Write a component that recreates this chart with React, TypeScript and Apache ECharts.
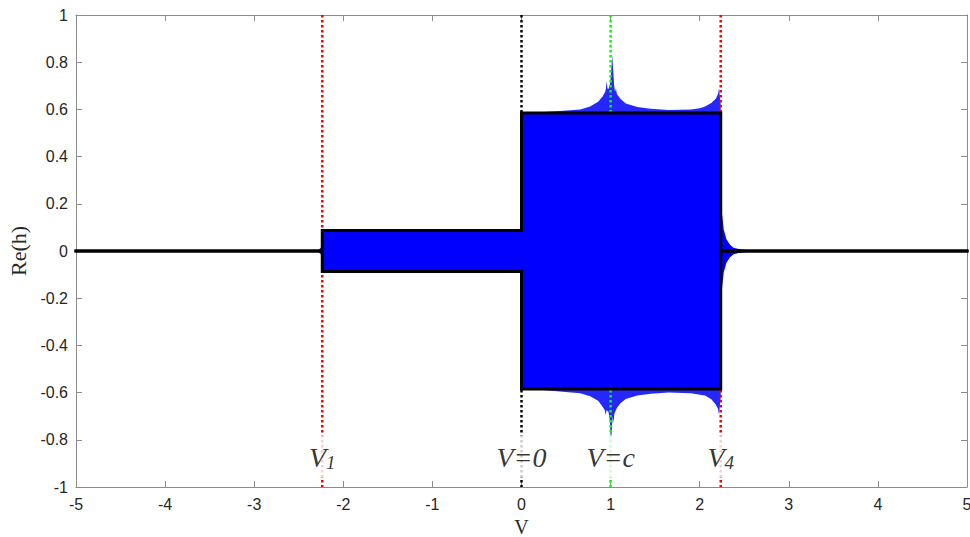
import React, { useEffect, useRef } from 'react';
import * as echarts from 'echarts';

// Characteristic speeds marked on the V axis
const V1 = -2.236;
const V0 = 0;
const VC = 1;
const V4 = 2.236;

// Outer envelope of Re(h) (black outline)
const envelopeUpper: [number, number][] = [
  [-5, 0], [-2.236, 0], [-2.236, 0.087], [0, 0.087], [0, 0.585], [2.236, 0.585], [2.236, 0], [5, 0],
];
const envelopeLower: [number, number][] = [
  [-5, 0], [-2.236, 0], [-2.236, -0.087], [0, -0.087], [0, -0.585], [2.236, -0.585], [2.236, 0], [5, 0],
];

// Oscillation peaks that overshoot the envelope on 0 < V < V4
const fringeUpper: [number, number][] = [
  [0, 0.585], [0.2, 0.588], [0.43, 0.593], [0.66, 0.6], [0.77, 0.612], [0.86, 0.632], [0.91, 0.655],
  [0.94, 0.675], [0.948, 0.69], [0.956, 0.72], [0.964, 0.69], [0.975, 0.685], [0.995, 0.71],
  [1.006, 0.76], [1.018, 0.83], [1.03, 0.76], [1.04, 0.7], [1.05, 0.675], [1.06, 0.69], [1.07, 0.665],
  [1.11, 0.645], [1.17, 0.625], [1.3, 0.61], [1.45, 0.603], [1.65, 0.597], [1.9, 0.6], [2.0, 0.605],
  [2.06, 0.612], [2.13, 0.627], [2.18, 0.645], [2.205, 0.665], [2.217, 0.69], [2.225, 0.66],
  [2.236, 0.62], [2.236, 0],
];
const fringeLower: [number, number][] = [
  [0, -0.585], [0.2, -0.588], [0.43, -0.595], [0.66, -0.603], [0.77, -0.615], [0.86, -0.635],
  [0.91, -0.66], [0.935, -0.675], [0.945, -0.695], [0.955, -0.675], [0.975, -0.68], [0.992, -0.72],
  [1.004, -0.82], [1.016, -0.74], [1.024, -0.7], [1.032, -0.73], [1.042, -0.69], [1.07, -0.665],
  [1.11, -0.645], [1.17, -0.627], [1.3, -0.612], [1.45, -0.605], [1.65, -0.6], [1.9, -0.603],
  [2.06, -0.612], [2.13, -0.628], [2.18, -0.65], [2.205, -0.668], [2.217, -0.695], [2.225, -0.66],
  [2.236, -0.62], [2.236, 0],
];

// Decaying tail just past V4 and the small leak just before V1
const tailUpper: [number, number][] = [
  [2.236, 0.585], [2.25, 0.16], [2.27, 0.09], [2.3, 0.05], [2.34, 0.027], [2.38, 0.014],
  [2.45, 0.007], [2.55, 0.003], [2.7, 0],
];
const tailLower: [number, number][] = [
  [2.236, -0.585], [2.25, -0.16], [2.27, -0.09], [2.3, -0.05], [2.34, -0.027], [2.38, -0.014],
  [2.45, -0.007], [2.55, -0.003], [2.7, 0],
];
const flareUpper: [number, number][] = [[-2.29, 0], [-2.25, 0.015], [-2.236, 0.087]];
const flareLower: [number, number][] = [[-2.29, 0], [-2.25, -0.015], [-2.236, -0.087]];

// Marker labels
const markerX = [V1, V0, VC, V4];
const markerText = ['{v|V}{s|1}', '{v|V=0}', '{v|V=c}', '{v|V}{s|4}'];
const markerColor = ['#ff0000', '#000000', '#00ff00', '#ff0000'];
const markerLabelY = -0.87;

const BLUE = '#0000ff';
const AXIS = '#8c8c8c';
const TICK_TEXT = '#262626';

const areaSeries = (data: [number, number][], color: string, opacity: number, z: number) => ({
  type: 'line',
  data,
  symbol: 'none',
  silent: true,
  lineStyle: { width: 0, opacity: 0 },
  areaStyle: { color, opacity },
  z,
});

export default function App() {
  const ref = useRef<HTMLDivElement>(null);

  useEffect(() => {
    const chart = echarts.init(ref.current!, null, { renderer: 'svg' });

    const dotted = markerX.map((x, i) => ({
      type: 'line',
      data: [[x, 1], [x, -1]],
      symbol: 'none',
      silent: true,
      lineStyle: { color: markerColor[i], width: 2.5, type: [2.5, 2.5] },
      z: 3,
    }));

    const envelope = (data: [number, number][]) => ({
      type: 'line',
      data,
      symbol: 'none',
      silent: true,
      lineStyle: { color: '#000', width: 3, join: 'miter', cap: 'square' },
      areaStyle: { color: BLUE, opacity: 1 },
      z: 4,
    });

    chart.setOption({
      animation: false,
      grid: { left: 76, right: 3, top: 15, bottom: 50, show: false, outerBoundsMode: 'none', containLabel: false },
      xAxis: [
        {
          type: 'value', min: -5, max: 5, interval: 1,
          axisLine: { onZero: false, lineStyle: { color: AXIS, width: 1 } },
          axisTick: { inside: true, length: 6, lineStyle: { color: AXIS } },
          axisLabel: { color: TICK_TEXT, fontSize: 16, fontFamily: 'Liberation Sans', margin: 9 },
          splitLine: { show: false },
          name: 'V', nameLocation: 'middle', nameGap: 21,
          nameTextStyle: { fontFamily: 'Liberation Serif', fontSize: 20, color: TICK_TEXT, lineHeight: 20 },
        },
        {
          type: 'value', min: -5, max: 5, interval: 1, position: 'top',
          axisLine: { onZero: false, lineStyle: { color: AXIS, width: 1 } },
          axisTick: { inside: true, length: 6, lineStyle: { color: AXIS } },
          axisLabel: { show: false },
          splitLine: { show: false },
        },
      ],
      yAxis: [
        {
          type: 'value', min: -1, max: 1, interval: 0.2,
          axisLine: { onZero: false, lineStyle: { color: AXIS, width: 1 } },
          axisTick: { inside: true, length: 6, lineStyle: { color: AXIS } },
          axisLabel: {
            color: TICK_TEXT, fontSize: 16, fontFamily: 'Liberation Sans', margin: 8,
            formatter: (v: number) => String(Math.round(v * 10) / 10),
          },
          splitLine: { show: false },
          name: 'Re(h)', nameLocation: 'middle', nameGap: 46,
          nameTextStyle: { fontFamily: 'Liberation Serif', fontSize: 22, color: TICK_TEXT },
        },
        {
          type: 'value', min: -1, max: 1, interval: 0.2, position: 'right',
          axisLine: { onZero: false, lineStyle: { color: AXIS, width: 1 } },
          axisTick: { inside: true, length: 6, lineStyle: { color: AXIS } },
          axisLabel: { show: false },
          splitLine: { show: false },
        },
      ],
      series: [
        areaSeries(fringeUpper, BLUE, 0.85, 2),
        areaSeries(fringeLower, BLUE, 0.85, 2),
        areaSeries(tailUpper, BLUE, 1, 2),
        areaSeries(tailLower, BLUE, 1, 2),
        areaSeries(flareUpper, BLUE, 1, 2),
        areaSeries(flareLower, BLUE, 1, 2),
        ...dotted,
        envelope(envelopeUpper),
        envelope(envelopeLower),
        {
          type: 'scatter',
          symbolSize: 0,
          silent: true,
          z: 6,
          data: markerX.map((x, i) => ({
            value: [x, markerLabelY],
            label: {
              show: true,
              position: 'inside',
              formatter: markerText[i],
              backgroundColor: '#fff',
              padding: [7, 3, 5, 3],
              rich: {
                v: {
                  fontFamily: 'Liberation Serif', fontStyle: 'italic', fontSize: 28,
                  color: '#000', lineHeight: 30, verticalAlign: 'middle',
                },
                s: {
                  fontFamily: 'Liberation Serif', fontStyle: 'italic', fontSize: 19,
                  color: '#000', lineHeight: 30, verticalAlign: 'bottom', padding: [12, 0, 0, 0],
                },
              },
            },
          })),
        },
      ],
    });

    return () => chart.dispose();
  }, []);

  return (
    <div
      ref={ref}
      style={{ position: 'absolute', left: 0, top: 0, width: 970, height: 537, background: '#fff' }}
    />
  );
}
